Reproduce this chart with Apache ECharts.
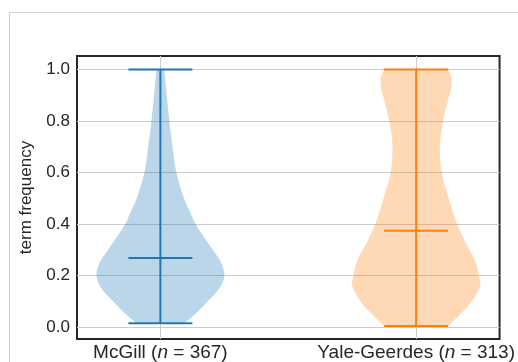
<!DOCTYPE html>
<html>
<head>
<meta charset="utf-8">
<script src="https://cdn.jsdelivr.net/npm/echarts@6/dist/echarts.min.js"></script>
<style>
  html, body { margin: 0; padding: 0; background: #ffffff; }
  #chart { width: 518px; height: 362px; }
</style>
</head>
<body>
<div id="chart"></div>
<script>
// Groups shown along the x axis
const categories = ['McGill', 'Yale-Geerdes'];
const counts = [367, 313];
const positions = [1, 2];

// Density profile of each group: term-frequency levels and relative half-widths (1 = widest)
const mcgillLevels  = [0.015, 0.05, 0.10, 0.15, 0.20, 0.25, 0.30, 0.35, 0.40, 0.45, 0.50, 0.60, 0.70, 0.80, 0.90, 1.00];
const mcgillDensity = [0.37, 0.54, 0.74, 0.92, 1.00, 0.95, 0.82, 0.68, 0.55, 0.46, 0.37, 0.25, 0.19, 0.14, 0.10, 0.06];
const yaleLevels    = [0.004, 0.05, 0.10, 0.16, 0.20, 0.26, 0.32, 0.40, 0.50, 0.60, 0.70, 0.80, 0.88, 0.93, 0.97, 1.00];
const yaleDensity   = [0.50, 0.69, 0.87, 1.00, 0.98, 0.92, 0.79, 0.64, 0.51, 0.40, 0.37, 0.42, 0.50, 0.55, 0.55, 0.50];

// Summary values: extremes and centre line of each group
const minValues = [0.015, 0.004];
const maxValues = [1.0, 1.0];
const centerValues = [0.268, 0.374];

// Tick labels of the y axis
const yTicks = [0, 0.2, 0.4, 0.6, 0.8, 1.0];

const lineColors = ['#1f77b4', '#ff7f0e'];
const fillColors = ['rgba(31,119,180,0.3)', 'rgba(255,127,14,0.3)'];
const FONT = '"Liberation Sans", Arial, Helvetica, sans-serif';
const TEXT = '#262626';

// Catmull-Rom smoothing of a pixel polyline
function smoothPath(pts, steps) {
  const out = [];
  for (let i = 0; i < pts.length - 1; i++) {
    const p0 = pts[Math.max(i - 1, 0)], p1 = pts[i], p2 = pts[i + 1], p3 = pts[Math.min(i + 2, pts.length - 1)];
    for (let s = 0; s < steps; s++) {
      const t = s / steps, t2 = t * t, t3 = t2 * t;
      out.push([0, 1].map(d => 0.5 * ((2 * p1[d]) + (-p0[d] + p2[d]) * t +
        (2 * p0[d] - 5 * p1[d] + 4 * p2[d] - p3[d]) * t2 +
        (-p0[d] + 3 * p1[d] - 3 * p2[d] + p3[d]) * t3)));
    }
  }
  out.push(pts[pts.length - 1]);
  return out;
}

function violinSeries(i, levels, density) {
  const color = lineColors[i];
  return {
    type: 'custom',
    coordinateSystem: 'cartesian2d',
    z: 3,
    silent: true,
    data: [[positions[i], centerValues[i]]],
    renderItem: function (params, api) {
      const pos = positions[i];
      const halfWidth = 0.25;   // widest half-width in axis units
      const capHalf = 0.125;
      const right = smoothPath(levels.map((y, k) => api.coord([pos + halfWidth * density[k], y])), 8);
      const left = smoothPath(levels.map((y, k) => api.coord([pos - halfWidth * density[k], y])), 8).reverse();
      const seg = (a, b) => ({
        type: 'line',
        shape: { x1: a[0], y1: a[1], x2: b[0], y2: b[1] },
        style: { stroke: color, lineWidth: 2 }
      });
      const hLine = v => seg(api.coord([pos - capHalf, v]), api.coord([pos + capHalf, v]));
      return {
        type: 'group',
        children: [
          { type: 'polygon', shape: { points: right.concat(left) }, style: { fill: fillColors[i] } },
          seg(api.coord([pos, minValues[i]]), api.coord([pos, maxValues[i]])),
          hLine(minValues[i]),
          hLine(maxValues[i]),
          hLine(centerValues[i])
        ]
      };
    }
  };
}

const chart = echarts.init(document.getElementById('chart'), null, { renderer: 'canvas' });

chart.setOption({
  backgroundColor: '#ffffff',
  animation: false,
  graphic: [{
    type: 'rect',
    silent: true,
    shape: { x: 9.5, y: 12.5, width: 700, height: 500 },
    style: { fill: 'none', stroke: '#d0d0d0', lineWidth: 1 }
  }],
  grid: {
    left: 77, right: 17, top: 56, bottom: 22,
    show: true, borderColor: '#262626', borderWidth: 2, backgroundColor: 'transparent'
  },
  xAxis: {
    type: 'value',
    min: 0.674, max: 2.326,
    axisLine: { show: false },
    axisTick: { show: false, customValues: positions },
    splitLine: { show: true, lineStyle: { color: '#cccccc', width: 1 } },
    axisLabel: {
      customValues: positions,
      margin: 4,
      color: TEXT, fontSize: 19, fontFamily: FONT,
      formatter: v => {
        const i = positions.indexOf(v);
        return categories[i] + ' ({it|n} = ' + counts[i] + ')';
      },
      rich: { it: { fontStyle: 'italic', fontSize: 19, fontFamily: FONT, color: TEXT } }
    }
  },
  yAxis: {
    type: 'value',
    min: -0.046, max: 1.052,
    name: 'term frequency',
    nameLocation: 'middle',
    nameGap: 42,
    nameTextStyle: { color: TEXT, fontSize: 17, fontFamily: FONT },
    axisLine: { show: false },
    axisTick: { show: false, customValues: yTicks },
    splitLine: { show: true, lineStyle: { color: '#cccccc', width: 1 } },
    axisLabel: {
      customValues: yTicks,
      margin: 7,
      color: TEXT, fontSize: 17, fontFamily: FONT,
      formatter: v => v.toFixed(1)
    }
  },
  series: [
    violinSeries(0, mcgillLevels, mcgillDensity),
    violinSeries(1, yaleLevels, yaleDensity)
  ]
});
</script>
</body>
</html>
